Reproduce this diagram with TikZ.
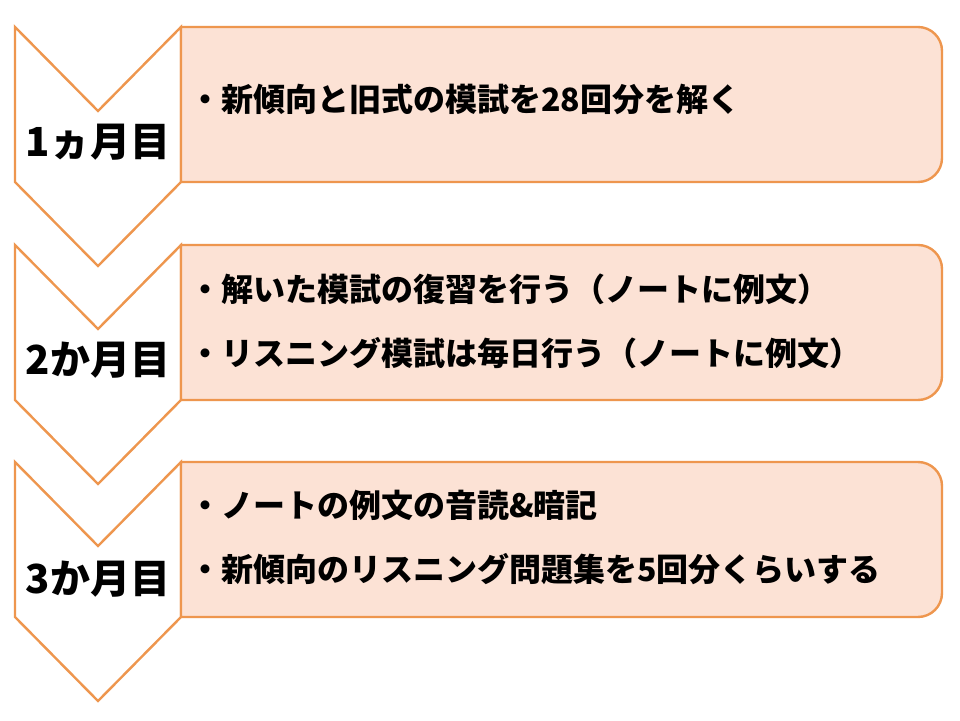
\documentclass[tikz,border=0pt]{standalone}
\usepackage{fontspec}
\setmainfont{Noto Sans CJK JP}
\definecolor{chevline}{RGB}{238,150,78}
\definecolor{boxfill}{RGB}{252,226,213}
\begin{document}
\begin{tikzpicture}[x=1pt,y=1pt,
  chev/.style={draw=chevline,line width=2.4pt,fill=white,line join=miter},
  listbox/.style={draw=chevline,line width=2.4pt,fill=boxfill},
  lbl/.style={inner sep=0pt,anchor=base,font=\fontsize{40}{44}\selectfont\bfseries},
  itm/.style={inner sep=0pt,anchor=base west,font=\fontsize{32}{36}\selectfont\bfseries}]
\useasboundingbox (0,0) rectangle (960,720);
\fill[white] (0,0) rectangle (960,720);
\foreach \T in {27,245,462}{
  \draw[chev] (15,{720-\T}) -- (98,{720-\T-84}) -- (181,{720-\T}) -- (181,{720-\T-155})
     -- (98,{720-\T-239}) -- (15,{720-\T-155}) -- cycle;
  \draw[listbox] (181,{720-\T}) -- (918,{720-\T}) arc[start angle=90,end angle=0,radius=24pt]
     -- (942,{720-\T-131}) arc[start angle=0,end angle=-90,radius=24pt]
     -- (181,{720-\T-155}) -- cycle;
}
\node[lbl] (l1) at (98,{720-142-15}) {1ヵ月目};
\node[lbl] (l2) at (98,{720-360-15}) {2か月目};
\node[lbl] (l3) at (98,{720-578-15}) {3か月目};
\node[itm] (t1) at (189,{720-100-12}) {・新傾向と旧式の模試を28回分を解く};
\node[itm] (t2) at (189,{720-290-12}) {・解いた模試の復習を行う（ノートに例文）};
\node[itm] (t3) at (189,{720-354-12}) {・リスニング模試は毎日行う（ノートに例文）};
\node[itm] (t4) at (189,{720-506-12}) {・ノートの例文の音読\&暗記};
\node[itm] (t5) at (189,{720-569-12}) {・新傾向のリスニング問題集を5回分くらいする};
\end{tikzpicture}
\end{document}
